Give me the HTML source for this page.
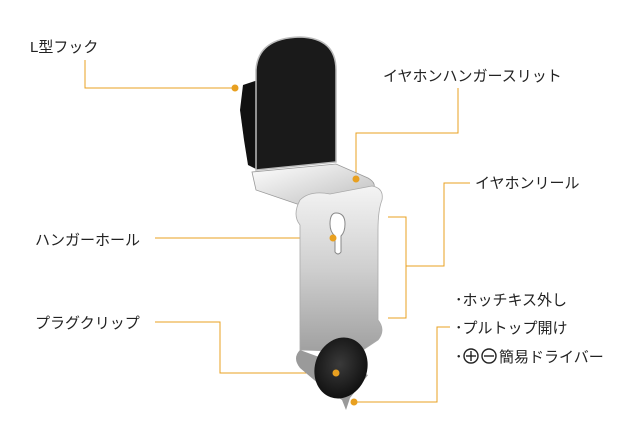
<!DOCTYPE html>
<html><head><meta charset="utf-8"><style>
html,body{margin:0;padding:0;background:#fff;}
body{width:640px;height:442px;overflow:hidden;font-family:"Liberation Sans","Noto Sans CJK JP",sans-serif;}
</style></head><body>
<svg width="640" height="442" viewBox="0 0 640 442" xmlns="http://www.w3.org/2000/svg">
<defs>
<linearGradient id="pl" x1="0" y1="0" x2="0" y2="1">
<stop offset="0" stop-color="#f4f4f4"/><stop offset="0.5" stop-color="#cfcfcf"/><stop offset="1" stop-color="#a0a0a0"/></linearGradient>
<linearGradient id="bs" x1="0" y1="0" x2="1" y2="1">
<stop offset="0" stop-color="#ffffff"/><stop offset="1" stop-color="#bdbdbd"/></linearGradient>
<radialGradient id="pk" cx="0.45" cy="0.45" r="0.6"><stop offset="0" stop-color="#3a3a3a"/><stop offset="1" stop-color="#0e0e0e"/></radialGradient>
</defs>
<g font-size="15" fill="#222">
<text x="30" y="52">L型フック</text>
<text x="383" y="81">イヤホンハンガースリット</text>
<text x="475" y="188">イヤホンリール</text>
<text x="35" y="245">ハンガーホール</text>
<text x="35" y="328">プラグクリップ</text>
<text x="455" y="305">･ホッチキス外し</text>
<text x="455" y="333">･プルトップ開け</text>
<text x="455" y="362">･</text>
<text x="499" y="362">簡易ドライバー</text>
</g>
<g fill="none" stroke="#222" stroke-width="1.4">
<circle cx="471" cy="356" r="7"/><line x1="466" y1="356" x2="476" y2="356"/><line x1="471" y1="351" x2="471" y2="361"/>
<circle cx="489" cy="356" r="7"/><line x1="484" y1="356" x2="494" y2="356"/>
</g>
<g fill="none" stroke="#e8a020" stroke-width="1">
<polyline points="85,60 85,88 235,88"/>
<polyline points="458,88 458,133 356,133 356,179"/>
<polyline points="388,217 406,217 406,318 388,318"/>
<polyline points="406,266 444,266 444,183 470,183"/>
<line x1="155" y1="238" x2="333" y2="238"/>
<polyline points="155,322 220,322 220,373 336,373"/>
<polyline points="354,402 437,402 437,327 450,327"/>
</g>
<path d="M243,85 L258,80 L258,170 L248,165 L244,140 L240,110 Z" fill="#111"/>
<path d="M256,170 L256,70 Q258,38 300,37 Q336,38 336,70 L336,162 Z" fill="#1a1a1a" stroke="#bbb" stroke-width="1.5"/>
<path d="M252,172 L256,190 L300,205 L372,190 Q378,184 368,178 L336,164 Z" fill="url(#bs)" stroke="#999" stroke-width="0.8"/>
<path d="M300,200 Q310,190 330,194 L372,186 Q384,188 382,200 Q378,210 378,230 L378,320 Q386,330 378,340 L360,352 L300,350 L300,225 Q292,215 300,200 Z" fill="url(#pl)" stroke="#aaa" stroke-width="0.8"/>
<path d="M336,213 Q345,213 345,224 Q345,232 341,236 L341,252 Q338,256 335,252 L335,236 Q330,232 330,224 Q330,213 336,213 Z" fill="#fff" stroke="#888" stroke-width="1"/>
<path d="M300,350 Q292,358 300,368 L320,385 L342,400 L346,410 L350,398 L368,375 Z" fill="#9a9a9a"/>
<ellipse cx="341" cy="368" rx="26" ry="31" transform="rotate(20 341 368)" fill="url(#pk)"/>
<circle cx="235" cy="88" r="3.5" fill="#e8a020"/>
<circle cx="356" cy="179" r="3.5" fill="#e8a020"/>
<circle cx="333" cy="238" r="3.5" fill="#e8a020"/>
<circle cx="336" cy="373" r="3.5" fill="#e8a020"/>
<circle cx="354" cy="402" r="3.5" fill="#e8a020"/>
</svg>
</body></html>
